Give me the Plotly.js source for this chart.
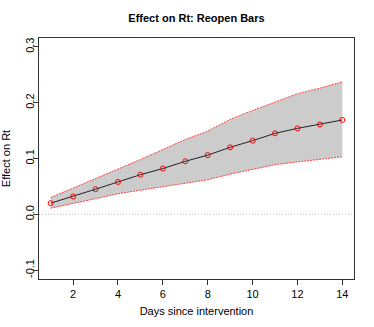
<!DOCTYPE html>
<html>
<head>
<meta charset="utf-8">
<script src="https://cdn.plot.ly/plotly-3.0.1.min.js"></script>
<style>
  html, body { margin: 0; padding: 0; background: #fff; }
  #chart { width: 374px; height: 327px; }
</style>
</head>
<body>
<div id="chart"></div>
<script>
// days after the intervention, estimated effect and its band
const days = [1, 2, 3, 4, 5, 6, 7, 8, 9, 10, 11, 12, 13, 14];
const effect = [0.020, 0.032, 0.045, 0.058, 0.071, 0.082, 0.095, 0.106, 0.120, 0.132, 0.145, 0.154, 0.161, 0.169];
const upper = [0.030, 0.047, 0.063, 0.080, 0.098, 0.116, 0.134, 0.149, 0.170, 0.186, 0.201, 0.216, 0.226, 0.237];
const lower = [0.011, 0.019, 0.028, 0.037, 0.043, 0.050, 0.056, 0.062, 0.072, 0.081, 0.089, 0.094, 0.098, 0.103];
const xTicks = [2, 4, 6, 8, 10, 12, 14];
const yTicks = [-0.1, 0.0, 0.1, 0.2, 0.3];

const font = 'Liberation Sans, Arial, sans-serif';

var lowerTrace = {
  x: days,
  y: lower,
  type: 'scatter',
  mode: 'lines',
  line: { color: '#ff4040', width: 1, dash: '2px,1px' },
  hoverinfo: 'skip'
};

var upperTrace = {
  x: days,
  y: upper,
  type: 'scatter',
  mode: 'lines',
  fill: 'tonexty',
  fillcolor: '#cccccc',
  line: { color: '#ff4040', width: 1, dash: '2px,1px' },
  hoverinfo: 'skip'
};

var meanTrace = {
  x: days,
  y: effect,
  type: 'scatter',
  mode: 'lines+markers',
  line: { color: '#222222', width: 1 },
  marker: {
    symbol: 'circle-open',
    size: 5,
    color: '#ff0000',
    line: { width: 1, color: '#ff0000' }
  }
};

var layout = {
  width: 374,
  height: 327,
  margin: { l: 39, r: 20, t: 38, b: 48 },
  paper_bgcolor: '#ffffff',
  plot_bgcolor: '#ffffff',
  showlegend: false,
  font: { family: font, size: 11, color: '#000000' },
  title: {
    text: '<b>Effect on Rt: Reopen Bars</b>',
    font: { family: font, size: 11, color: '#000000' },
    x: 0.5,
    xref: 'paper',
    y: 0.945,
    yref: 'container',
    yanchor: 'middle'
  },
  xaxis: {
    range: [0.48, 14.52],
    tickvals: xTicks,
    ticktext: xTicks.map(String),
    ticks: 'outside',
    ticklen: 5,
    tickcolor: '#333333',
    showgrid: false,
    zeroline: false,
    showline: true,
    mirror: true,
    linecolor: '#333333',
    linewidth: 1,
    title: { text: 'Days since intervention', standoff: 8, font: { size: 11 } },
    automargin: false
  },
  yaxis: {
    range: [-0.1158, 0.3158],
    tickvals: yTicks,
    ticktext: yTicks.map(v => v.toFixed(1)),
    tickangle: -90,
    ticklabelstandoff: -5,
    ticks: 'outside',
    ticklen: 5,
    tickcolor: '#333333',
    showgrid: false,
    zeroline: false,
    showline: true,
    mirror: true,
    linecolor: '#333333',
    linewidth: 1,
    title: { text: 'Effect on Rt', standoff: 11, font: { size: 11 } },
    automargin: false
  },
  shapes: [{
    type: 'line',
    xref: 'paper', x0: 0, x1: 1,
    yref: 'y', y0: 0, y1: 0,
    line: { color: '#bbbbbb', width: 1, dash: '1px,2px' },
    layer: 'below'
  }]
};

Plotly.newPlot('chart', [lowerTrace, upperTrace, meanTrace], layout, { displayModeBar: false, staticPlot: true });
</script>
</body>
</html>
